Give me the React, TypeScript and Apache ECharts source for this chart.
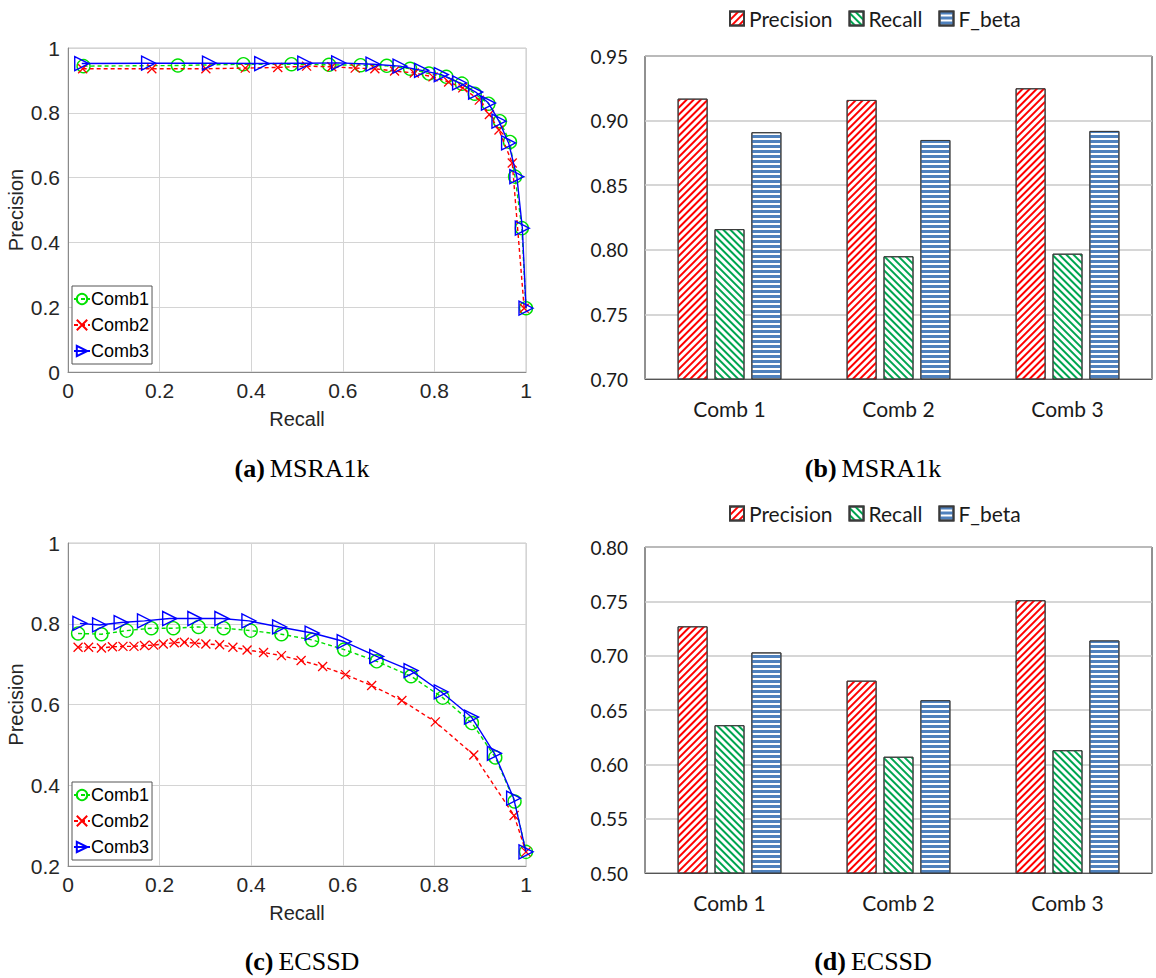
import React, { useEffect, useRef } from "react";
import * as echarts from "echarts";

// ---- MSRA1k precision-recall curves ----
const msraComb1Recall = [0.034, 0.240, 0.383, 0.488, 0.570, 0.639, 0.696, 0.747, 0.788, 0.826, 0.860, 0.888, 0.918, 0.943, 0.965, 0.976, 0.991, 1.0];
const msraComb1Precision = [0.944, 0.946, 0.950, 0.950, 0.948, 0.947, 0.945, 0.936, 0.921, 0.911, 0.890, 0.859, 0.828, 0.774, 0.710, 0.603, 0.444, 0.197];
const msraComb2Recall = [0.032, 0.183, 0.301, 0.387, 0.458, 0.521, 0.576, 0.627, 0.670, 0.713, 0.756, 0.797, 0.831, 0.862, 0.898, 0.920, 0.941, 0.970, 0.996];
const msraComb2Precision = [0.936, 0.936, 0.936, 0.938, 0.940, 0.944, 0.942, 0.938, 0.936, 0.929, 0.923, 0.911, 0.895, 0.877, 0.839, 0.795, 0.747, 0.645, 0.197];
const msraComb3Recall = [0.030, 0.176, 0.309, 0.423, 0.517, 0.591, 0.666, 0.725, 0.772, 0.815, 0.855, 0.890, 0.918, 0.941, 0.962, 0.980, 0.992, 1.0];
const msraComb3Precision = [0.952, 0.953, 0.953, 0.952, 0.953, 0.954, 0.950, 0.944, 0.931, 0.918, 0.892, 0.864, 0.830, 0.774, 0.707, 0.603, 0.444, 0.197];

// ---- ECSSD precision-recall curves ----
const ecssdComb1Recall = [0.022, 0.073, 0.128, 0.182, 0.230, 0.285, 0.340, 0.399, 0.466, 0.533, 0.603, 0.674, 0.749, 0.818, 0.882, 0.933, 0.975, 1.0];
const ecssdComb1Precision = [0.776, 0.774, 0.783, 0.789, 0.789, 0.792, 0.789, 0.783, 0.774, 0.760, 0.736, 0.707, 0.670, 0.617, 0.554, 0.469, 0.360, 0.235];
const ecssdComb2Recall = [0.022, 0.045, 0.073, 0.097, 0.120, 0.144, 0.167, 0.187, 0.208, 0.232, 0.254, 0.277, 0.301, 0.331, 0.360, 0.391, 0.427, 0.466, 0.509, 0.556, 0.606, 0.663, 0.729, 0.802, 0.886, 0.974, 1.0];
const ecssdComb2Precision = [0.742, 0.742, 0.740, 0.743, 0.744, 0.744, 0.746, 0.747, 0.750, 0.753, 0.754, 0.752, 0.750, 0.748, 0.742, 0.735, 0.729, 0.721, 0.709, 0.694, 0.674, 0.647, 0.610, 0.557, 0.475, 0.325, 0.235];
const ecssdComb3Recall = [0.026, 0.069, 0.116, 0.167, 0.222, 0.277, 0.336, 0.395, 0.462, 0.533, 0.603, 0.674, 0.749, 0.815, 0.881, 0.931, 0.973, 1.0];
const ecssdComb3Precision = [0.801, 0.797, 0.803, 0.807, 0.813, 0.813, 0.813, 0.807, 0.792, 0.777, 0.756, 0.719, 0.684, 0.631, 0.569, 0.479, 0.368, 0.235];

// ---- Bar chart scores ----
const combCategories = ["Comb 1", "Comb 2", "Comb 3"];
const msraPrecision = [0.917, 0.916, 0.925];
const msraRecall = [0.816, 0.795, 0.797];
const msraFbeta = [0.891, 0.885, 0.892];
const ecssdPrecision = [0.727, 0.677, 0.751];
const ecssdRecall = [0.636, 0.607, 0.613];
const ecssdFbeta = [0.703, 0.659, 0.714];

const curveNames = ["Comb1", "Comb2", "Comb3"];
const barNames = ["Precision", "Recall", "F_beta"];

const zip = (xs: number[], ys: number[]) => xs.map((x, i) => [x, ys[i]]);

const SANS = "Liberation Sans, Arial, sans-serif";
const BAR_FONT = "Lato, Open Sans, sans-serif";
const SERIF = "Liberation Serif, Times New Roman, serif";

const GREEN = "#00e000";
const RED = "#ff0000";
const BLUE = "#0000ff";

function curveSeries(gridIdx: number, c1: number[][], c2: number[][], c3: number[][]) {
  return [
    {
      type: "line",
      name: curveNames[0],
      xAxisIndex: gridIdx,
      yAxisIndex: gridIdx,
      data: c1,
      symbol: "circle",
      symbolSize: 13,
      showAllSymbol: true,
      itemStyle: { color: "rgba(0,0,0,0)", borderColor: GREEN, borderWidth: 1.4 },
      lineStyle: { color: GREEN, width: 1.4, type: [4, 3] },
      z: 2,
    },
    {
      type: "line",
      name: curveNames[1],
      xAxisIndex: gridIdx,
      yAxisIndex: gridIdx,
      data: c2,
      symbol: "path://M0,0L10,10M10,0L0,10",
      symbolSize: 9,
      showAllSymbol: true,
      itemStyle: { color: "rgba(0,0,0,0)", borderColor: RED, borderWidth: 1.3 },
      lineStyle: { color: RED, width: 1.4, type: [4, 3] },
      z: 3,
    },
    {
      type: "line",
      name: curveNames[2],
      xAxisIndex: gridIdx,
      yAxisIndex: gridIdx,
      data: c3,
      symbol: "triangle",
      symbolRotate: -90,
      symbolSize: 14,
      showAllSymbol: true,
      itemStyle: { color: "rgba(0,0,0,0)", borderColor: BLUE, borderWidth: 1.4 },
      lineStyle: { color: BLUE, width: 1.4 },
      z: 4,
    },
  ];
}

// hatch fills: "/" for precision, "\" for recall, horizontal lines for F_beta
const precisionDecal = {
  symbol: "rect",
  symbolSize: 1,
  color: "#ff0000",
  backgroundColor: "#ffffff",
  dashArrayX: [1, 0],
  dashArrayY: [2, 2.5],
  rotation: -Math.PI / 4,
};
const recallDecal = {
  symbol: "rect",
  symbolSize: 1,
  color: "#00a550",
  backgroundColor: "#ffffff",
  dashArrayX: [1, 0],
  dashArrayY: [2, 2.5],
  rotation: Math.PI / 4,
};
const fbetaDecal = {
  symbol: "rect",
  symbolSize: 1,
  color: "#4f81bd",
  backgroundColor: "#ffffff",
  dashArrayX: [1, 0],
  dashArrayY: [2.2, 1.4],
  rotation: 0,
};

function barSeries(gridIdx: number, p: number[], r: number[], f: number[]) {
  const base = (name: string, data: number[], decal: any) => ({
    type: "bar",
    name,
    xAxisIndex: gridIdx,
    yAxisIndex: gridIdx,
    data,
    barWidth: 30,
    barGap: "23%",
    itemStyle: { color: "#ffffff", borderColor: "#3a3a3a", borderWidth: 1, decal },
  });
  return [
    base(barNames[0], p, precisionDecal),
    base(barNames[1], r, recallDecal),
    base(barNames[2], f, fbetaDecal),
  ];
}

function curveAxes(gridIdx: number, yMin: number) {
  const label = { fontSize: 21, color: "#262626", fontFamily: SANS };
  const split = { show: true, lineStyle: { color: "#d4d4d4", width: 1 } };
  return {
    x: {
      type: "value",
      gridIndex: gridIdx,
      min: 0,
      max: 1,
      interval: 0.2,
      name: "Recall",
      nameLocation: "middle",
      nameGap: 37,
      nameTextStyle: { fontSize: 20, color: "#262626", fontFamily: SANS },
      axisLabel: { ...label, margin: 8 },
      axisLine: { show: true, lineStyle: { color: "#8a8a8a" } },
      axisTick: { show: false },
      splitLine: split,
    },
    y: {
      type: "value",
      gridIndex: gridIdx,
      min: yMin,
      max: 1,
      interval: 0.2,
      name: "Precision",
      nameLocation: "middle",
      nameGap: 42,
      nameTextStyle: { fontSize: 20, color: "#262626", fontFamily: SANS },
      axisLabel: { ...label, margin: 8 },
      axisLine: { show: true, lineStyle: { color: "#8a8a8a" } },
      axisTick: { show: false },
      splitLine: split,
    },
  };
}

function barAxes(gridIdx: number, yMin: number, yMax: number) {
  return {
    x: {
      type: "category",
      gridIndex: gridIdx,
      data: combCategories,
      axisTick: { show: false },
      axisLine: { show: true, lineStyle: { color: "#555", width: 1 } },
      axisLabel: { fontSize: 21, color: "#1a1a1a", fontFamily: BAR_FONT, margin: 19 },
      splitLine: { show: false },
    },
    y: {
      type: "value",
      gridIndex: gridIdx,
      min: yMin,
      max: yMax,
      interval: 0.05,
      axisLine: { show: false },
      axisTick: { show: false },
      axisLabel: {
        fontSize: 19,
        color: "#1a1a1a",
        fontFamily: BAR_FONT,
        margin: 17,
        formatter: (v: number) => v.toFixed(2),
      },
      splitLine: { show: true, lineStyle: { color: "#c8c8c8", width: 1.5 } },
    },
  };
}

function curveLegend(top: number) {
  return {
    data: curveNames,
    orient: "vertical",
    left: 72,
    top,
    backgroundColor: "#ffffff",
    borderColor: "#555555",
    borderWidth: 1,
    borderRadius: 0,
    padding: [4, 3, 4, 1],
    itemGap: 8,
    itemWidth: 16,
    itemHeight: 13,
    selectedMode: false,
    textStyle: { fontSize: 18, color: "#000", fontFamily: SANS, padding: [0, 0, 0, -4] },
  };
}

function barLegend(top: number) {
  return {
    data: barNames,
    orient: "horizontal",
    left: 724,
    top,
    icon: "rect",
    itemWidth: 14,
    itemHeight: 14,
    itemGap: 16,
    selectedMode: false,
    textStyle: { fontSize: 21, color: "#1a1a1a", fontFamily: BAR_FONT },
  };
}

function caption(letter: string, dataset: string, x: number, top: number) {
  return {
    text: `{b|(${letter})} {n|${dataset}}`,
    left: x,
    top,
    textAlign: "center",
    textStyle: {
      rich: {
        b: { fontFamily: SERIF, fontSize: 26, fontWeight: "bold", color: "#000" },
        n: { fontFamily: SERIF, fontSize: 26, fontWeight: "normal", color: "#000" },
      },
    },
  };
}

export default function App() {
  const ref = useRef<HTMLDivElement>(null);

  useEffect(() => {
    if (!ref.current) return;
    const chart = echarts.init(ref.current, undefined, { renderer: "svg" });

    const axA = curveAxes(0, 0);
    const axB = barAxes(1, 0.7, 0.95);
    const axC = curveAxes(2, 0.2);
    const axD = barAxes(3, 0.5, 0.8);

    chart.setOption({
      animation: false,
      backgroundColor: "#ffffff",
      title: [
        caption("a", "MSRA1k", 297, 450),
        caption("b", "MSRA1k", 868, 450),
        caption("c", "ECSSD", 297, 943),
        caption("d", "ECSSD", 868, 943),
      ],
      grid: [
        { left: 68, top: 48, width: 458, height: 324, show: true, borderColor: "#c8c8c8", borderWidth: 1 },
        { left: 645, top: 56, width: 507, height: 323, show: true, borderColor: "#222", borderWidth: 1 },
        { left: 68, top: 543, width: 458, height: 323, show: true, borderColor: "#c8c8c8", borderWidth: 1 },
        { left: 645, top: 547, width: 507, height: 326, show: true, borderColor: "#222", borderWidth: 1 },
      ],
      xAxis: [axA.x, axB.x, axC.x, axD.x],
      yAxis: [axA.y, axB.y, axC.y, axD.y],
      legend: [curveLegend(286), barLegend(3), curveLegend(782), barLegend(498)],
      series: [
        ...curveSeries(0, zip(msraComb1Recall, msraComb1Precision), zip(msraComb2Recall, msraComb2Precision), zip(msraComb3Recall, msraComb3Precision)),
        ...barSeries(1, msraPrecision, msraRecall, msraFbeta),
        ...curveSeries(2, zip(ecssdComb1Recall, ecssdComb1Precision), zip(ecssdComb2Recall, ecssdComb2Precision), zip(ecssdComb3Recall, ecssdComb3Precision)),
        ...barSeries(3, ecssdPrecision, ecssdRecall, ecssdFbeta),
      ],
    });

    return () => chart.dispose();
  }, []);

  return (
    <div
      ref={ref}
      style={{ position: "absolute", left: 0, top: 0, width: 1156, height: 978, background: "#fff" }}
    />
  );
}
